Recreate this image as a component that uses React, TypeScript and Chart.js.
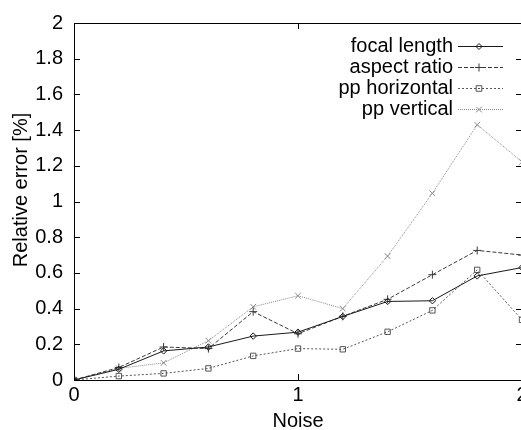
import React, { useEffect, useRef } from "react";
import { Chart, registerables } from "chart.js";

Chart.register(...registerables);

const noise = [0, 0.2, 0.4, 0.6, 0.8, 1.0, 1.2, 1.4, 1.6, 1.8, 2.0];
const focalLength = [0, 0.06, 0.163, 0.185, 0.246, 0.268, 0.356, 0.44, 0.444, 0.583, 0.63];
const aspectRatio = [0, 0.07, 0.185, 0.176, 0.383, 0.259, 0.357, 0.452, 0.59, 0.726, 0.7];
const ppHorizontal = [0, 0.022, 0.037, 0.065, 0.135, 0.176, 0.172, 0.27, 0.39, 0.617, 0.337];
const ppVertical = [0, 0.065, 0.096, 0.22, 0.41, 0.472, 0.4, 0.694, 1.046, 1.43, 1.222];

const seriesNames = ["focal length", "aspect ratio", "pp horizontal", "pp vertical"];
const xTickValues = [0, 1, 2];
const yTickValues = [0, 0.2, 0.4, 0.6, 0.8, 1, 1.2, 1.4, 1.6, 1.8, 2];
const xTitle = "Noise";
const yTitle = "Relative error [%]";

const FONT = "'Liberation Sans', Arial, Helvetica, sans-serif";

const styles = [
  { color: "#1a1a1a", dash: [] as number[], marker: "diamond" },
  { color: "#3a3a3a", dash: [4, 2], marker: "plus" },
  { color: "#555555", dash: [2, 2], marker: "square" },
  { color: "#8a8a8a", dash: [1, 1], marker: "cross" },
];

const pointStyleMap: Record<string, any> = {
  diamond: "rectRot",
  plus: "cross",
  square: "rect",
  cross: "crossRot",
};
const pointRadiusMap: Record<string, number> = {
  diamond: 3.2,
  plus: 4,
  square: 3.8,
  cross: 4,
};

function drawMarker(ctx: CanvasRenderingContext2D, kind: string, x: number, y: number) {
  ctx.beginPath();
  if (kind === "diamond") {
    const r = 3;
    ctx.moveTo(x, y - r);
    ctx.lineTo(x + r, y);
    ctx.lineTo(x, y + r);
    ctx.lineTo(x - r, y);
    ctx.closePath();
  } else if (kind === "plus") {
    const r = 4;
    ctx.moveTo(x - r, y);
    ctx.lineTo(x + r, y);
    ctx.moveTo(x, y - r);
    ctx.lineTo(x, y + r);
  } else if (kind === "square") {
    const r = 2.8;
    ctx.rect(x - r, y - r, 2 * r, 2 * r);
  } else {
    const r = 2.9;
    ctx.moveTo(x - r, y - r);
    ctx.lineTo(x + r, y + r);
    ctx.moveTo(x + r, y - r);
    ctx.lineTo(x - r, y + r);
  }
  ctx.stroke();
}

const decorPlugin = {
  id: "decor",
  afterDraw(chart: any) {
    const ctx: CanvasRenderingContext2D = chart.ctx;
    const area = chart.chartArea;
    const xs = chart.scales.x;
    const ys = chart.scales.y;
    ctx.save();
    // frame
    ctx.strokeStyle = "#000";
    ctx.lineWidth = 1;
    ctx.setLineDash([]);
    ctx.beginPath();
    ctx.rect(Math.round(area.left) + 0.5, Math.round(area.top) + 0.5, Math.round(area.right - area.left), Math.round(area.bottom - area.top));
    ctx.stroke();
    // inward ticks
    const tl = 6;
    ctx.beginPath();
    for (const v of yTickValues) {
      const py = Math.round(ys.getPixelForValue(v)) + 0.5;
      ctx.moveTo(area.left, py);
      ctx.lineTo(area.left + tl, py);
      ctx.moveTo(area.right, py);
      ctx.lineTo(area.right - tl, py);
    }
    for (const v of xTickValues) {
      const px = Math.round(xs.getPixelForValue(v)) + 0.5;
      ctx.moveTo(px, area.bottom);
      ctx.lineTo(px, area.bottom - tl);
      ctx.moveTo(px, area.top);
      ctx.lineTo(px, area.top + tl);
    }
    ctx.stroke();
    // axis titles
    ctx.fillStyle = "#000";
    ctx.font = `20px ${FONT}`;
    ctx.textAlign = "center";
    ctx.textBaseline = "middle";
    ctx.fillText(xTitle, (area.left + area.right) / 2 - 0, 421);
    ctx.save();
    ctx.translate(21, 190);
    ctx.rotate(-Math.PI / 2);
    ctx.fillText(yTitle, 0, 0);
    ctx.restore();
    // legend
    chart.data.datasets.forEach((ds: any, i: number) => {
      const st = styles[i];
      const cy = 46 + i * 21;
      ctx.fillStyle = "#000";
      ctx.textAlign = "right";
      ctx.textBaseline = "middle";
      ctx.font = `20px ${FONT}`;
      ctx.fillText(ds.label, 453, cy);
      ctx.strokeStyle = st.color;
      ctx.lineWidth = 1;
      ctx.setLineDash(st.dash);
      ctx.beginPath();
      ctx.moveTo(458, cy + 0.5);
      ctx.lineTo(503, cy + 0.5);
      ctx.stroke();
      ctx.setLineDash([]);
      drawMarker(ctx, st.marker, 479, cy + 0.5);
    });
    ctx.restore();
  },
};

export default function App() {
  const ref = useRef<HTMLCanvasElement | null>(null);

  useEffect(() => {
    document.body.style.margin = "0";
    document.body.style.overflow = "hidden";
    const canvas = ref.current;
    if (!canvas) return;
    const series = [focalLength, aspectRatio, ppHorizontal, ppVertical];
    const datasets = series.map((vals, i) => {
      const st = styles[i];
      return {
        label: seriesNames[i],
        data: noise.map((x, j) => ({ x, y: vals[j] })),
        borderColor: st.color,
        borderWidth: 1,
        borderDash: st.dash,
        backgroundColor: "transparent",
        pointStyle: pointStyleMap[st.marker],
        pointRadius: pointRadiusMap[st.marker],
        pointBorderColor: st.color,
        pointBackgroundColor: "transparent",
        pointBorderWidth: 1,
        tension: 0,
        fill: false,
      };
    });
    const chart = new Chart(canvas, {
      type: "line",
      data: { datasets },
      options: {
        responsive: false,
        animation: false,
        layout: { padding: { left: 0, top: 20, right: 18, bottom: 0 } },
        plugins: { legend: { display: false }, tooltip: { enabled: false }, title: { display: false } },
        scales: {
          x: {
            type: "linear",
            min: 0,
            max: 2,
            grid: { display: false, drawTicks: false },
            border: { display: false },
            afterFit: (s: any) => {
              s.height = 50;
            },
            afterBuildTicks: (s: any) => {
              s.ticks = xTickValues.map((v) => ({ value: v }));
            },
            ticks: {
              color: "#000",
              font: { family: FONT, size: 20 },
              padding: 3,
              maxRotation: 0,
              callback: (v: any) => String(Number(Number(v).toFixed(1))),
            },
          },
          y: {
            type: "linear",
            min: 0,
            max: 2,
            grid: { display: false, drawTicks: false },
            border: { display: false },
            afterFit: (s: any) => {
              s.width = 74;
            },
            afterBuildTicks: (s: any) => {
              s.ticks = yTickValues.map((v) => ({ value: v }));
            },
            ticks: {
              color: "#000",
              font: { family: FONT, size: 20 },
              padding: 11,
              callback: (v: any) => String(Number(Number(v).toFixed(1))),
            },
          },
        },
      },
      plugins: [decorPlugin],
    });
    return () => chart.destroy();
  }, []);

  return (
    <div style={{ position: "fixed", left: 0, top: 0, width: 521, height: 430, overflow: "hidden", background: "#fff" }}>
      <canvas ref={ref} width={540} height={430} style={{ display: "block", width: 540, height: 430 }} />
    </div>
  );
}
